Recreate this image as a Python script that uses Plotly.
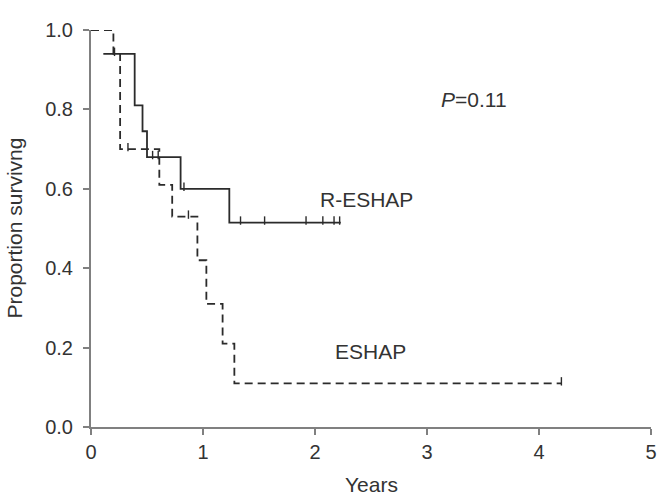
import plotly.graph_objects as go

# ESHAP (dashed) Kaplan-Meier steps
eshap_t = [0.0, 0.20, 0.26, 0.61, 0.725, 0.95, 1.03, 1.175, 1.28, 4.20]
eshap_s = [1.00, 0.94, 0.70, 0.61, 0.53, 0.42, 0.31, 0.21, 0.11, 0.11]
eshap_cens_t = [0.21, 0.33, 0.87, 4.20]
eshap_cens_s = [0.94, 0.70, 0.53, 0.11]

# R-ESHAP (solid) Kaplan-Meier steps
reshap_t = [0.11, 0.39, 0.46, 0.50, 0.80, 1.235, 2.23]
reshap_s = [0.94, 0.81, 0.745, 0.68, 0.60, 0.515, 0.515]
reshap_cens_t = [0.55, 0.60, 0.83, 1.335, 1.55, 1.92, 2.07, 2.17, 2.22]
reshap_cens_s = [0.68, 0.68, 0.60, 0.515, 0.515, 0.515, 0.515, 0.515, 0.515]

x_ticks = [0, 1, 2, 3, 4, 5]
y_ticks = [0.0, 0.2, 0.4, 0.6, 0.8, 1.0]

LINE = "#2b2b2b"
AX = "#808080"
FONT = "Liberation Sans, Arial, sans-serif"
FS = 20
FA = 21

fig = go.Figure()
fig.add_trace(go.Scatter(x=eshap_t, y=eshap_s, mode="lines", line_shape="hv",
                         line=dict(color=LINE, width=1.8, dash="8px,5px"),
                         showlegend=False, cliponaxis=False))
fig.add_trace(go.Scatter(x=reshap_t, y=reshap_s, mode="lines", line_shape="hv",
                         line=dict(color=LINE, width=1.8),
                         showlegend=False, cliponaxis=False))
off = 0.005
fig.add_trace(go.Scatter(x=eshap_cens_t, y=[v + off for v in eshap_cens_s], mode="markers",
                         marker=dict(symbol="line-ns", size=6, line=dict(color=LINE, width=1.4)),
                         showlegend=False, cliponaxis=False))
fig.add_trace(go.Scatter(x=reshap_cens_t, y=[v + off for v in reshap_cens_s], mode="markers",
                         marker=dict(symbol="line-ns", size=6, line=dict(color=LINE, width=1.4)),
                         showlegend=False, cliponaxis=False))

fig.add_annotation(x=3.42, y=0.824, xref="x", yref="y", text="<i>P</i>=0.11",
                   showarrow=False, font=dict(size=FA, color="#333", family=FONT))
fig.add_annotation(x=2.03, y=0.572, xref="x", yref="y", text="R-ESHAP", xanchor="left",
                   showarrow=False, font=dict(size=FA, color="#333", family=FONT))
fig.add_annotation(x=2.16, y=0.189, xref="x", yref="y", text="ESHAP", xanchor="left",
                   showarrow=False, font=dict(size=FA, color="#333", family=FONT))
# axis titles
fig.add_annotation(x=0, y=0.5, xref="paper", yref="paper", xshift=-77, textangle=-90,
                   xanchor="center", yanchor="middle",
                   text="Proportion survivng", showarrow=False,
                   font=dict(size=FA, color="#333", family=FONT))
fig.add_annotation(x=0.5, y=0, xref="paper", yref="paper", yshift=-57,
                   xanchor="center", yanchor="middle",
                   text="Years", showarrow=False,
                   font=dict(size=FA, color="#333", family=FONT))

fig.update_layout(
    width=658, height=497,
    margin=dict(l=91, r=7, t=30, b=70),
    paper_bgcolor="white", plot_bgcolor="white",
    font=dict(family=FONT, size=FS, color="#333"),
    xaxis=dict(range=[0, 5], tickvals=x_ticks, ticktext=[str(v) for v in x_ticks],
               showgrid=False, zeroline=False, showline=True, linecolor=AX, linewidth=2,
               ticks="outside", ticklen=6, tickcolor=AX, tickwidth=1.5,
               tickfont=dict(size=FS), automargin=False),
    yaxis=dict(range=[0, 1], tickvals=y_ticks, ticktext=[f"{v:.1f}" for v in y_ticks],
               showgrid=False, zeroline=False, showline=True, linecolor=AX, linewidth=2,
               ticks="outside", ticklen=6, tickcolor=AX, tickwidth=1.5,
               ticklabelstandoff=6, tickfont=dict(size=FS), automargin=False),
)

fig.write_html("out.html")
